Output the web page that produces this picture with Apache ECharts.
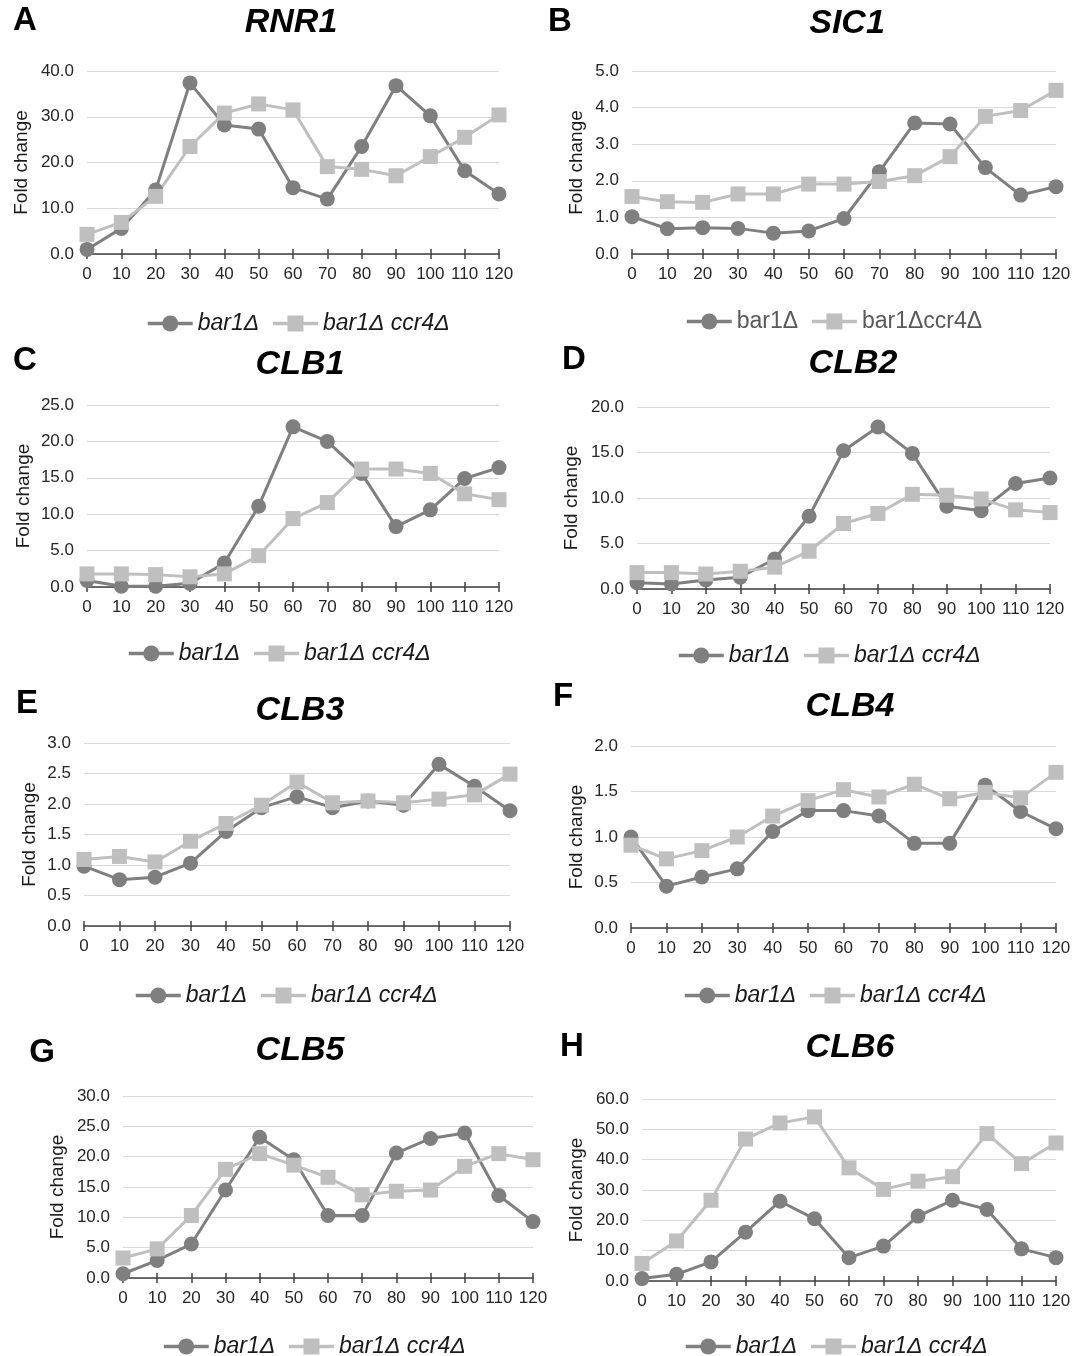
<!DOCTYPE html>
<html style="height: 100%">

<head>
    <meta charset="utf-8">
    <script src="https://cdn.jsdelivr.net/npm/echarts@6/dist/echarts.min.js"></script>
</head>

<body style="height: 100%; margin: 0; background: #fff">
    <div id="main" style="width: 1087px; height: 1356px;"></div>
    <script type="text/javascript">
    // time points (min)
    var times = ['0', '10', '20', '30', '40', '50', '60', '70', '80', '90', '100', '110', '120'];

    // fold change values
    var rnr1Bar1 = [1.0, 5.6, 14.0, 37.4, 28.2, 27.3, 14.5, 12.0, 23.5, 36.8, 30.2, 18.2, 13.1];
    var rnr1Ccr4 = [4.3, 6.9, 12.6, 23.5, 30.8, 32.8, 31.5, 19.1, 18.5, 17.1, 21.3, 25.5, 30.4];
    var sic1Bar1 = [1.02, 0.69, 0.72, 0.70, 0.57, 0.63, 0.97, 2.25, 3.58, 3.55, 2.36, 1.61, 1.84];
    var sic1Ccr4 = [1.57, 1.43, 1.41, 1.64, 1.64, 1.91, 1.91, 1.98, 2.14, 2.66, 3.76, 3.92, 4.47];
    var clb1Bar1 = [0.9, 0.1, 0.1, 0.5, 3.3, 11.1, 22.0, 20.0, 15.6, 8.3, 10.6, 14.9, 16.4];
    var clb1Ccr4 = [1.8, 1.8, 1.7, 1.4, 1.8, 4.3, 9.4, 11.6, 16.2, 16.2, 15.6, 12.8, 12.0];
    var clb2Bar1 = [0.7, 0.55, 1.0, 1.3, 3.3, 8.0, 15.2, 17.8, 14.9, 9.1, 8.6, 11.6, 12.2];
    var clb2Ccr4 = [1.8, 1.8, 1.65, 1.95, 2.4, 4.15, 7.2, 8.3, 10.4, 10.3, 9.9, 8.7, 8.4];
    var clb3Bar1 = [0.98, 0.76, 0.80, 1.03, 1.55, 1.94, 2.12, 1.94, 2.05, 1.98, 2.65, 2.29, 1.89];
    var clb3Ccr4 = [1.09, 1.14, 1.05, 1.39, 1.68, 1.98, 2.36, 2.02, 2.05, 2.02, 2.08, 2.15, 2.49];
    var clb4Bar1 = [1.0, 0.46, 0.56, 0.65, 1.06, 1.29, 1.29, 1.23, 0.93, 0.93, 1.57, 1.28, 1.09];
    var clb4Ccr4 = [0.91, 0.76, 0.85, 1.0, 1.23, 1.40, 1.52, 1.44, 1.58, 1.42, 1.49, 1.43, 1.71];
    var clb5Bar1 = [0.7, 2.9, 5.6, 14.5, 23.2, 19.5, 10.3, 10.3, 20.6, 23.0, 23.9, 13.6, 9.3];
    var clb5Ccr4 = [3.3, 4.8, 10.3, 17.9, 20.5, 18.6, 16.6, 13.7, 14.3, 14.5, 18.4, 20.5, 19.5];
    var clb6Bar1 = [0.8, 2.2, 6.3, 16.1, 26.3, 20.5, 7.7, 11.5, 21.4, 26.6, 23.6, 10.6, 7.7];
    var clb6Ccr4 = [5.8, 13.2, 26.6, 46.8, 52.1, 54.1, 37.3, 30.2, 32.9, 34.4, 48.6, 38.7, 45.5];

    var letters = ['A', 'B', 'C', 'D', 'E', 'F', 'G', 'H'];
    var genes = ['RNR1', 'SIC1', 'CLB1', 'CLB2', 'CLB3', 'CLB4', 'CLB5', 'CLB6'];
    var yMax = [40, 5, 25, 20, 3, 2, 30, 60];
    var yStep = [10, 1, 5, 5, 0.5, 0.5, 5, 10];
    var bar1Data = [rnr1Bar1, sic1Bar1, clb1Bar1, clb2Bar1, clb3Bar1, clb4Bar1, clb5Bar1, clb6Bar1];
    var ccr4Data = [rnr1Ccr4, sic1Ccr4, clb1Ccr4, clb2Ccr4, clb3Ccr4, clb4Ccr4, clb5Ccr4, clb6Ccr4];

    // panel placement
    var layouts = [
        { x: 87, y: 71, w: 412, h: 183, gap: 56, lx: 141, ly: 320, tx: 25, ty: 21, gx: 291, gy: 23 },
        { x: 632, y: 71, w: 424, h: 183, gap: 46, lx: 680, ly: 318, tx: 560, ty: 22, gx: 847, gy: 24 },
        { x: 87, y: 405, w: 412, h: 182, gap: 54, lx: 122, ly: 650, tx: 25, ty: 361, gx: 300, gy: 365 },
        { x: 637, y: 407, w: 413, h: 182, gap: 56, lx: 672, ly: 652, tx: 574, ty: 360, gx: 853, gy: 364 },
        { x: 84, y: 743, w: 426, h: 183, gap: 45, lx: 129, ly: 992, tx: 27, ty: 704, gx: 300, gy: 711 },
        { x: 631, y: 746, w: 425, h: 182, gap: 45, lx: 678, ly: 992, tx: 563, ty: 697, gx: 850, gy: 707 },
        { x: 123, y: 1096, w: 410, h: 182, gap: 56, lx: 157, ly: 1343, tx: 42, ty: 1053, gx: 300, gy: 1051 },
        { x: 642, y: 1099, w: 414, h: 182, gap: 56, lx: 679, ly: 1343, tx: 572, ty: 1047, gx: 850, gy: 1048 }
    ];

    var FONT = '"Liberation Sans", Arial, sans-serif';
    var dark = '#7f7f7f';
    var light = '#bfbfbf';
    var axisColor = '#404040';

    var myChart = echarts.init(document.getElementById('main'));

    var option = {
        animation: false,
        backgroundColor: '#fff',
        textStyle: { fontFamily: FONT },
        grid: [],
        xAxis: [],
        yAxis: [],
        legend: [],
        series: [],
        graphic: []
    };

    letters.forEach(function (letter, i) {
        var L = layouts[i];
        var nameA = 'bar1Δ';
        var nameB = i === 1 ? 'bar1Δccr4Δ' : 'bar1Δ ccr4Δ';

        option.grid.push({
            left: L.x, top: L.y, width: L.w, height: L.h,
            containLabel: false, outerBoundsMode: 'none'
        });
        // main x axis: line, outside ticks, labels
        option.xAxis.push({
            gridIndex: i,
            type: 'category',
            data: times,
            boundaryGap: false,
            position: 'bottom',
            axisLine: { lineStyle: { color: axisColor, width: 1.5 } },
            axisTick: { length: 5, interval: 0, lineStyle: { color: axisColor, width: 1.5 } },
            axisLabel: { interval: 0, fontSize: 17, color: '#262626', margin: 12 },
            splitLine: { show: false }
        });
        // second x axis only for the upper half of the crossing ticks
        option.xAxis.push({
            gridIndex: i,
            type: 'category',
            data: times,
            boundaryGap: false,
            position: 'bottom',
            axisLine: { show: false },
            axisTick: { inside: true, length: 5, interval: 0, lineStyle: { color: axisColor, width: 1.5 } },
            axisLabel: { show: false },
            splitLine: { show: false }
        });
        option.yAxis.push({
            gridIndex: i,
            type: 'value',
            min: 0,
            max: yMax[i],
            interval: yStep[i],
            name: 'Fold change',
            nameLocation: 'middle',
            nameGap: L.gap,
            nameTextStyle: { fontSize: 19, color: '#1a1a1a' },
            axisLine: { show: false },
            axisTick: { show: false },
            axisLabel: {
                fontSize: 17, color: '#262626', margin: 13,
                formatter: function (v) { return v.toFixed(1); }
            },
            splitLine: { lineStyle: { color: '#d9d9d9', width: 1 } }
        });

        option.series.push({
            name: nameA,
            type: 'line',
            xAxisIndex: i * 2,
            yAxisIndex: i,
            data: bar1Data[i],
            symbol: 'circle',
            symbolSize: 15,
            showAllSymbol: true,
            itemStyle: { color: dark },
            lineStyle: { color: dark, width: 3 }
        });
        option.series.push({
            name: nameB,
            type: 'line',
            xAxisIndex: i * 2,
            yAxisIndex: i,
            data: ccr4Data[i],
            symbol: 'rect',
            symbolSize: 15,
            showAllSymbol: true,
            itemStyle: { color: light },
            lineStyle: { color: light, width: 3 }
        });

        option.legend.push({
            data: [nameA, nameB],
            left: L.lx,
            top: L.ly - 13,
            itemWidth: 45,
            itemHeight: 20,
            itemGap: 12,
            selectedMode: false,
            lineStyle: { width: 3.5 },
            textStyle: i === 1
                ? { fontSize: 23, color: '#595959' }
                : { fontSize: 23, fontStyle: 'italic', color: '#1a1a1a' }
        });

        option.graphic.push({
            type: 'text', x: L.tx, y: L.ty,
            style: {
                text: letter, fill: '#000', align: 'center', verticalAlign: 'middle',
                font: 'bold 33px ' + FONT
            }
        });
        option.graphic.push({
            type: 'text', x: L.gx, y: L.gy,
            style: {
                text: genes[i], fill: '#000', align: 'center', verticalAlign: 'middle',
                font: 'italic bold 34px ' + FONT
            }
        });
    });

    myChart.setOption(option);
    </script>

</body>

</html>
